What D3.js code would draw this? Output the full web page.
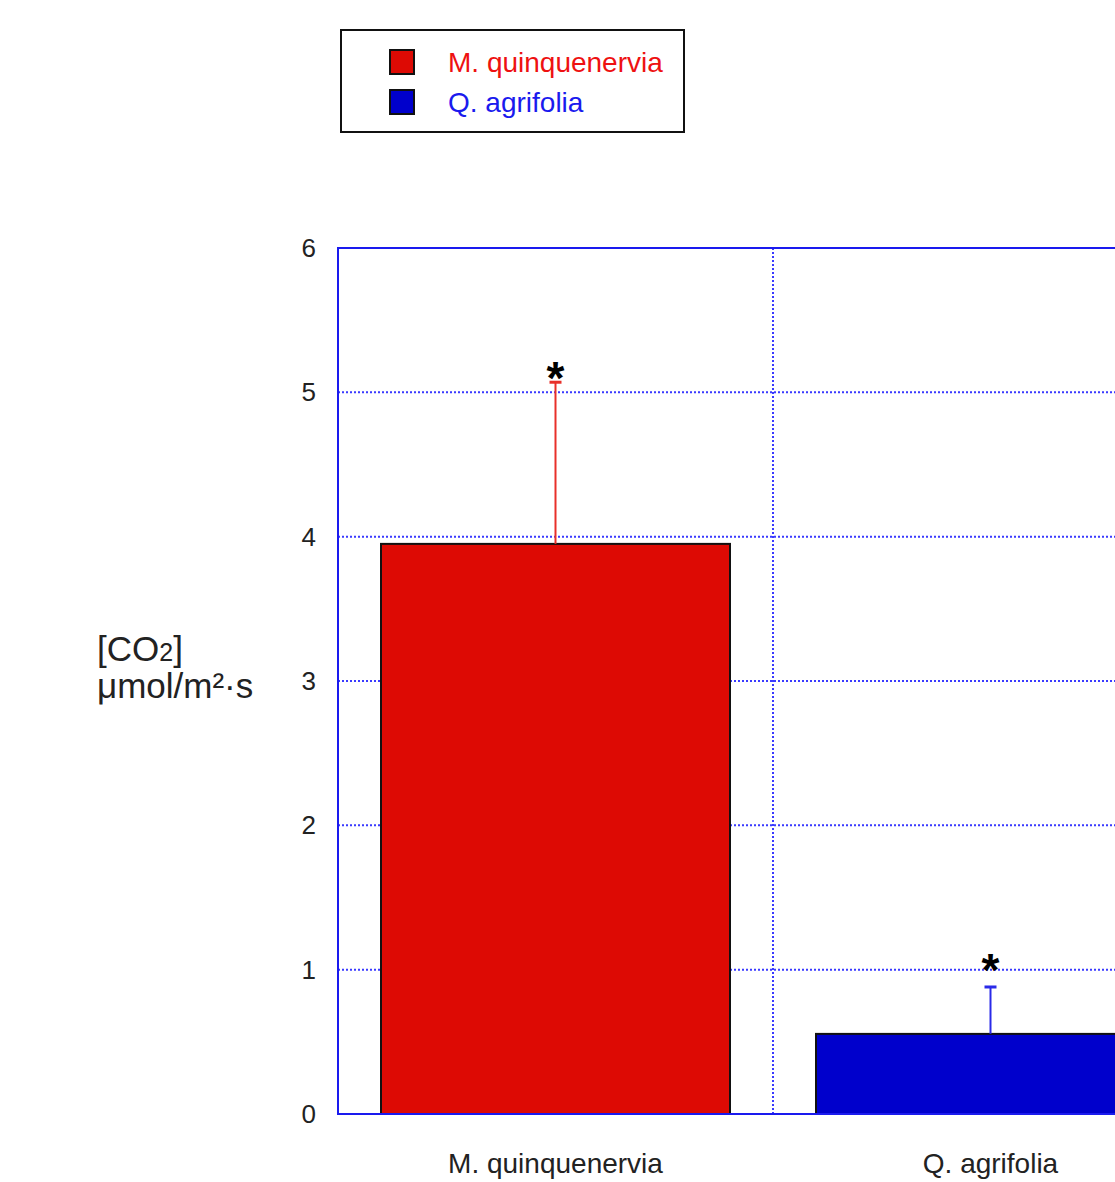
<!DOCTYPE html>
<html>
<head>
<meta charset="utf-8">
<script src="https://cdn.jsdelivr.net/npm/d3@7"></script>
<style>
  body { margin: 0; background: white; }
  svg { display: block; font-family: "Liberation Sans", Arial, sans-serif; }
</style>
</head>
<body>
<div id="container"></div>
<script>
/* CONSTANTS AND GLOBALS */
const width = 1115;
const height = 1182;

/* DATA */
const categories = ["M. quinquenervia", "Q. agrifolia"];
const values = [3.95, 0.555];
const errors = [1.12, 0.325];
const starLevels = [5.155, 1.053]; // where the significance marks sit
const yTicks = [0, 1, 2, 3, 4, 5, 6];
const fills = ["#dd0a04", "#0000cc"];
const errColors = ["#e8302a", "#2a2ae8"];
const legendText = ["#ee1111", "#1a1aee"];

const data = categories.map((c, i) => ({ cat: c, value: values[i], err: errors[i], star: starLevels[i], fill: fills[i], errColor: errColors[i] }));

const svg = d3.select("#container")
  .append("svg")
  .attr("width", width)
  .attr("height", height)
  .style("background-color", "white");

/* SCALES */
// plot is wider than the window, right side gets cut off
const plot = { left: 338, right: 1208, top: 248, bottom: 1114 };

const xScale = d3.scaleBand()
  .domain(categories)
  .range([plot.left, plot.right]);

const yScale = d3.scaleLinear()
  .domain([0, 6])
  .range([plot.bottom, plot.top]);

const barPad = 43;

/* GRID */
svg.selectAll(".hgrid")
  .data(yTicks.filter(d => d > 0 && d < 6))
  .join("line")
  .attr("class", "hgrid")
  .attr("x1", plot.left)
  .attr("x2", plot.right)
  .attr("y1", d => yScale(d))
  .attr("y2", d => yScale(d))
  .attr("stroke", "#3a3aff")
  .attr("stroke-width", 2)
  .attr("stroke-dasharray", "2,2");

svg.append("line")
  .attr("x1", xScale(categories[1]))
  .attr("x2", xScale(categories[1]))
  .attr("y1", plot.top)
  .attr("y2", plot.bottom)
  .attr("stroke", "#3a3aff")
  .attr("stroke-width", 2)
  .attr("stroke-dasharray", "2,2");

/* BARS */
svg.selectAll(".bar")
  .data(data)
  .join("rect")
  .attr("class", "bar")
  .attr("x", d => xScale(d.cat) + barPad)
  .attr("y", d => yScale(d.value))
  .attr("width", xScale.bandwidth() - 2 * barPad)
  .attr("height", d => yScale(0) - yScale(d.value))
  .attr("fill", d => d.fill)
  .attr("stroke", "#111")
  .attr("stroke-width", 2);

/* ERROR BARS */
const cx = d => xScale(d.cat) + xScale.bandwidth() / 2;

svg.selectAll(".err")
  .data(data)
  .join("line")
  .attr("class", "err")
  .attr("x1", cx)
  .attr("x2", cx)
  .attr("y1", d => yScale(d.value))
  .attr("y2", d => yScale(d.value + d.err))
  .attr("stroke", d => d.errColor)
  .attr("stroke-width", 2);

svg.selectAll(".cap")
  .data(data)
  .join("line")
  .attr("class", "cap")
  .attr("x1", d => cx(d) - 6)
  .attr("x2", d => cx(d) + 6)
  .attr("y1", d => yScale(d.value + d.err))
  .attr("y2", d => yScale(d.value + d.err))
  .attr("stroke", d => d.errColor)
  .attr("stroke-width", 3);

svg.selectAll(".star")
  .data(data)
  .join("text")
  .attr("class", "star")
  .attr("x", cx)
  .attr("y", d => yScale(d.star) + 24)
  .attr("text-anchor", "middle")
  .attr("font-size", 46)
  .attr("font-weight", "bold")
  .attr("fill", "#000")
  .text("*");

/* AXES FRAME */
svg.append("path")
  .attr("d", `M${plot.right},${plot.top}H${plot.left}V${plot.bottom}H${plot.right}`)
  .attr("fill", "none")
  .attr("stroke", "#1a1aee")
  .attr("stroke-width", 2);

svg.selectAll(".ytick")
  .data(yTicks)
  .join("text")
  .attr("class", "ytick")
  .attr("x", 316)
  .attr("y", d => yScale(d))
  .attr("dy", "0.35em")
  .attr("text-anchor", "end")
  .attr("font-size", 26)
  .attr("fill", "#222")
  .text(d => d);

svg.selectAll(".xlabel")
  .data(categories)
  .join("text")
  .attr("class", "xlabel")
  .attr("x", d => xScale(d) + xScale.bandwidth() / 2)
  .attr("y", 1173)
  .attr("text-anchor", "middle")
  .attr("font-size", 28)
  .attr("fill", "#222")
  .text(d => d);

/* Y LABEL */
const ylab = svg.append("text")
  .attr("x", 97)
  .attr("font-size", 35)
  .attr("fill", "#222");
const l1 = ylab.append("tspan").attr("x", 97).attr("y", 661);
l1.append("tspan").text("[CO");
l1.append("tspan").attr("font-size", 25).text("2");
l1.append("tspan").text("]");
ylab.append("tspan").attr("x", 97).attr("y", 698).text("μmol/m²·s");

/* LEGEND */
const legend = svg.append("g");
legend.append("rect")
  .attr("x", 341)
  .attr("y", 30)
  .attr("width", 343)
  .attr("height", 102)
  .attr("fill", "white")
  .attr("stroke", "#111")
  .attr("stroke-width", 2);

const items = legend.selectAll(".item")
  .data(categories)
  .join("g")
  .attr("class", "item")
  .attr("transform", (d, i) => `translate(390,${50 + i * 40})`);

items.append("rect")
  .attr("width", 24)
  .attr("height", 24)
  .attr("fill", (d, i) => fills[i])
  .attr("stroke", "#111")
  .attr("stroke-width", 2);

items.append("text")
  .attr("x", 58)
  .attr("y", 12)
  .attr("dy", "0.35em")
  .attr("font-size", 28)
  .attr("fill", (d, i) => legendText[i])
  .text(d => d);
</script>
</body>
</html>
